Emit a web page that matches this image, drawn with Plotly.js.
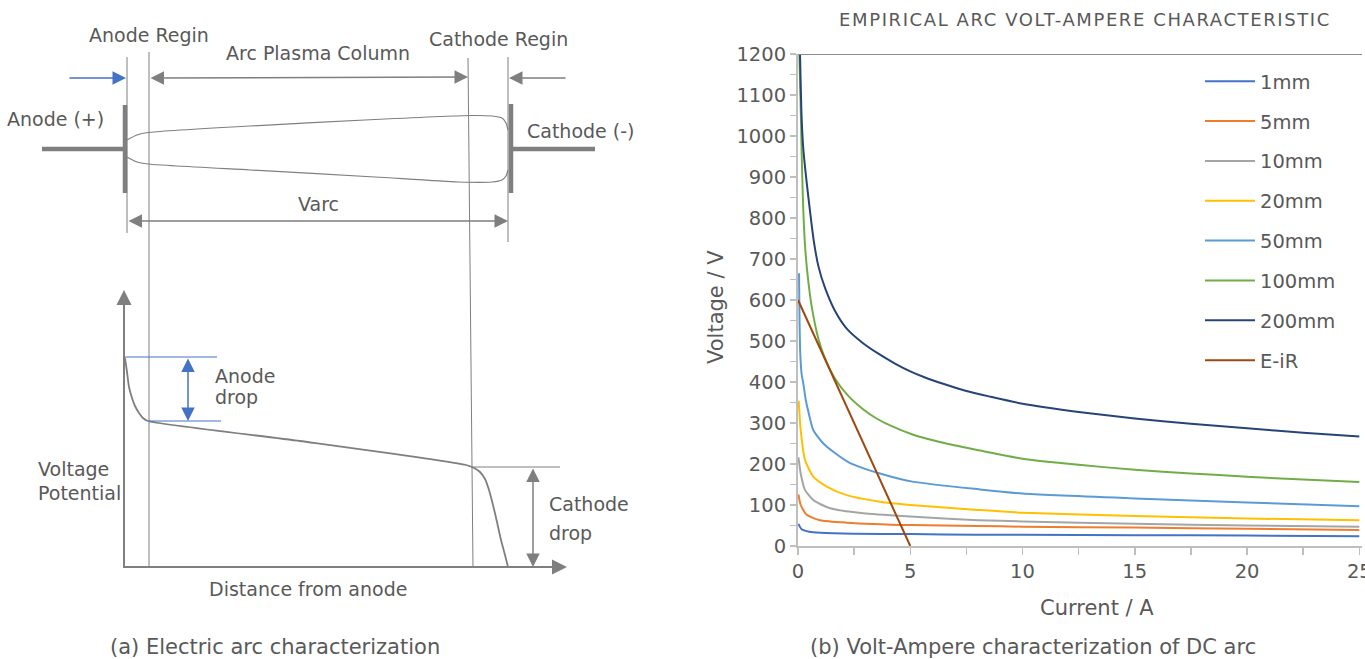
<!DOCTYPE html>
<html><head><meta charset="utf-8">
<script src="https://cdn.plot.ly/plotly-3.0.1.min.js"></script>
<style>html,body{margin:0;padding:0;background:#fff;} #chart{width:1365px;height:659px;} .gtitle{letter-spacing:1.6px;}</style>
</head><body><div id="chart"></div>
<script>
// ================= Right panel: chart data =================
const seriesNames = ['1mm', '5mm', '10mm', '20mm', '50mm', '100mm', '200mm', 'E-iR'];
const seriesColors = ['#4472C4', '#ED7D31', '#A5A5A5', '#FFC000', '#5B9BD5', '#70AD47', '#264478', '#9E480E'];

const current_1mm = [0.02, 0.16, 0.5, 1, 2.5, 5, 8, 10, 15, 20, 25];
const voltage_1mm = [54, 41, 35, 32.5, 30, 29, 27.5, 27.5, 26.5, 25.5, 24];

const current_5mm = [0.02, 0.12, 0.39, 0.98, 2.17, 5, 8, 10, 15, 20, 25];
const voltage_5mm = [126, 100, 76, 63, 57, 51, 49, 47, 45, 42, 39];

const current_10mm = [0.02, 0.12, 0.31, 0.68, 1.43, 2.9, 5, 8, 10, 15, 20, 25];
const voltage_10mm = [216, 177, 137, 112, 92, 80, 72, 63, 60, 54, 50, 47];

const current_20mm = [0.03, 0.12, 0.31, 0.68, 1.28, 2.17, 3.65, 5, 8, 10, 15, 20, 25];
const voltage_20mm = [354, 283, 210, 169, 145, 124, 108, 100, 88, 81, 73, 67, 63];

const current_50mm = [0.045, 0.07, 0.1, 0.16, 0.24, 0.35, 0.46, 0.68, 1.13, 1.57, 2.3, 3.65, 5.1, 8.1, 10, 15, 20, 25];
const voltage_50mm = [665, 545, 470, 420, 395, 355, 328, 283, 250, 230, 203, 177, 157, 138, 128, 116, 106, 97];

const current_100mm = [0.06, 0.13, 0.16, 0.22, 0.31, 0.43, 0.61, 0.91, 1.2, 1.65, 2.24, 2.91, 3.5, 4.1, 5.1, 6.6, 8.1, 10, 12.5, 15, 17.5, 20, 22.5, 25];
const voltage_100mm = [1200, 1047, 966, 844, 735, 660, 584, 505, 458, 408, 366, 333, 311, 294, 272, 250, 233, 213, 198, 186, 177, 169, 162, 156];

const current_200mm = [0.09, 0.16, 0.24, 0.39, 0.53, 0.7, 0.91, 1.2, 1.65, 2.17, 2.84, 3.58, 4.32, 5, 5.66, 6.5, 7.5, 8.5, 10, 12.5, 15, 17.5, 20, 22.5, 25];
const voltage_200mm = [1200, 1047, 966, 885, 819, 745, 682, 630, 573, 530, 497, 469, 445, 426, 411, 395, 378, 365, 347, 327, 311, 298, 287, 276, 267];

const current_EiR = [0, 5];
const voltage_EiR = [600, 0];

const seriesCurrents = [current_1mm, current_5mm, current_10mm, current_20mm, current_50mm, current_100mm, current_200mm, current_EiR];
const seriesVoltages = [voltage_1mm, voltage_5mm, voltage_10mm, voltage_20mm, voltage_50mm, voltage_100mm, voltage_200mm, voltage_EiR];

const chartTitle = 'EMPIRICAL ARC VOLT-AMPERE CHARACTERISTIC';
const xTitle = 'Current / A';
const yTitle = 'Voltage / V';
const captionA = '(a) Electric arc characterization';
const captionB = '(b) Volt-Ampere characterization of DC arc';

// ================= Left panel: schematic geometry (pixel space) =================
const plasmaTopX = [127, 137, 148, 250, 375, 471, 492, 502, 506, 508];
const plasmaTopY = [140, 135, 132.5, 126, 119.5, 115.5, 116, 118, 123, 130];
const plasmaBotX = [127, 137, 148, 250, 375, 458, 492, 502, 506, 508];
const plasmaBotY = [157, 162, 164, 170, 177, 182, 182, 180, 176, 170];
const potentialX = [125, 127, 129, 132, 135, 139, 143, 148, 300, 466, 474, 480, 485, 489, 493, 497, 501, 505, 508];
const potentialY = [358, 372, 387, 398, 406, 413, 418, 421, 441, 465, 468, 472, 479, 490, 505, 522, 540, 555, 567];

const TXT = '#595959';
const GRAY = '#7F7F7F';
const BLUE = '#4472C4';
const FONT = 'DejaVu Sans, sans-serif';

const traces = [];
for (let i = 0; i < seriesNames.length; i++) {
  traces.push({
    type: 'scatter', mode: 'lines', name: seriesNames[i],
    x: seriesCurrents[i], y: seriesVoltages[i],
    xaxis: 'x', yaxis: 'y',
    line: {color: seriesColors[i], width: 2, shape: 'spline', smoothing: 0.6},
    legendgroup: 'g' + i, hoverinfo: 'x+y+name'
  });
}
function schem(x, y, color, w) {
  return {type: 'scatter', mode: 'lines', x: x, y: y, xaxis: 'x2', yaxis: 'y2',
    line: {color: color, width: w, shape: 'spline', smoothing: 0.6}, showlegend: false, hoverinfo: 'skip'};
}
traces.push(schem(plasmaTopX, plasmaTopY, GRAY, 1.2));
traces.push(schem(plasmaBotX, plasmaBotY, GRAY, 1.2));
traces.push(schem(potentialX, potentialY, GRAY, 1.8));

const shapes = [];
function seg(x0, y0, x1, y1, color, w) {
  shapes.push({type: 'line', xref: 'x2', yref: 'y2', x0: x0, y0: y0, x1: x1, y1: y1, line: {color: color, width: w}, layer: 'above'});
}
seg(125, 105, 125, 193, GRAY, 4.5);
seg(42, 149, 125, 149, GRAY, 4.5);
seg(511, 104, 511, 193, GRAY, 4.5);
seg(511, 149, 595, 149, GRAY, 4.5);
seg(127, 57, 127, 233, GRAY, 1);
seg(149, 52, 149, 568, GRAY, 1);
seg(468, 58, 473, 568, GRAY, 1);
seg(508, 57, 508, 242, GRAY, 1);
seg(124, 568, 124, 300, GRAY, 2);
seg(123, 567, 555, 567, GRAY, 2);
seg(125, 357, 217, 357, BLUE, 1);
seg(149, 421, 221, 421, BLUE, 1);
seg(472, 467, 560, 467, GRAY, 1);
shapes.push({type: 'line', xref: 'x domain', yref: 'y', x0: 0, x1: 1, y0: 1200, y1: 1200, line: {color: '#8C8C8C', width: 2}});

const annotations = [];
function arrow(x, y, ax, ay, color, both, w, size) {
  annotations.push({xref: 'x2', yref: 'y2', axref: 'x2', ayref: 'y2', x: x, y: y, ax: ax, ay: ay,
    text: '', showarrow: true, arrowhead: 2, startarrowhead: 2, arrowsize: size || 1.8, startarrowsize: size || 1.8,
    arrowwidth: w || 1.5, arrowcolor: color, arrowside: both ? 'end+start' : 'end', standoff: 0, startstandoff: 0});
}
arrow(126, 78, 68, 78, BLUE, false, 1.5);
arrow(468, 77, 149, 78, GRAY, true, 1.5);
arrow(509, 78, 567, 78, GRAY, false, 1.5);
arrow(508, 221, 127, 221, GRAY, true, 1.5);
arrow(124, 290, 124, 320, GRAY, false, 2, 1.5);
arrow(567, 567, 540, 567, GRAY, false, 2, 1.5);
arrow(188, 421, 188, 357, BLUE, true, 1.5);
arrow(533, 567, 533, 467, GRAY, true, 1.5);

function label(txt, x, y, anchor, size, angle) {
  annotations.push({xref: 'x2', yref: 'y2', x: x, y: y, text: txt, showarrow: false, textangle: angle || 0,
    xanchor: anchor || 'center', yanchor: 'middle', font: {family: FONT, size: size || 19, color: TXT}});
}
label('Anode Regin', 149, 35);
label('Arc Plasma Column', 318, 53);
label('Cathode Regin', 498, 39);
label('Anode (+)', 55, 119);
label('Cathode (-)', 581, 131);
label('Varc', 318, 204);
label('Anode', 213, 376, 'left');
label('drop', 213, 397, 'left');
label('Voltage', 36, 469, 'left');
label('Potential', 36, 493, 'left');
label('Cathode', 547, 504, 'left');
label('drop', 547, 533, 'left');
label('Distance from anode', 308, 589);
label(captionA, 275, 647, 'center', 21);
label(captionB, 1033, 647, 'center', 21);
label(xTitle, 1097, 608, 'center', 21);
label(yTitle, 716, 307, 'center', 21, -90);

const layout = {
  width: 1365, height: 659,
  margin: {l: 0, r: 0, t: 0, b: 0, pad: 0},
  paper_bgcolor: '#ffffff', plot_bgcolor: 'rgba(0,0,0,0)',
  font: {family: FONT, color: TXT},
  title: {text: chartTitle, x: 1085 / 1365, xanchor: 'center', y: 1 - 20 / 659, yanchor: 'middle',
    font: {family: FONT, size: 18, color: TXT}},
  xaxis: {
    domain: [798 / 1365, 1362 / 1365], range: [0, 25.12], anchor: 'y',
    showgrid: false, zeroline: false, showline: true, linecolor: '#BFBFBF', linewidth: 2,
    ticks: 'outside', ticklen: 7, tickcolor: '#BFBFBF', tickwidth: 1.5, dtick: 5, tick0: 0,
    minor: {dtick: 2.5, ticks: 'outside', ticklen: 7, tickcolor: '#BFBFBF', tickwidth: 1.5},
    tickfont: {family: FONT, size: 19.5, color: TXT}, ticklabeloverflow: 'allow'
  },
  yaxis: {
    domain: [1 - 546 / 659, 1 - 54 / 659], range: [0, 1200], anchor: 'x',
    showgrid: false, zeroline: false, showline: true, linecolor: '#BFBFBF', linewidth: 2,
    ticks: 'outside', ticklen: 6, tickcolor: '#BFBFBF', tickwidth: 1.5, dtick: 100, tick0: 0,
    minor: {dtick: 50, ticks: 'outside', ticklen: 6, tickcolor: '#BFBFBF', tickwidth: 1.5},
    tickfont: {family: FONT, size: 19.5, color: TXT}
  },
  xaxis2: {domain: [0, 1], range: [0, 1365], anchor: 'y2', visible: false, fixedrange: true},
  yaxis2: {domain: [0, 1], range: [659, 0], anchor: 'x2', visible: false, fixedrange: true},
  showlegend: true,
  legend: {x: 1200 / 1365, y: 1 - 62 / 659, xanchor: 'left', yanchor: 'top', bgcolor: 'rgba(0,0,0,0)',
    font: {family: FONT, size: 19.5, color: TXT}, tracegroupgap: 11.5, itemwidth: 50, traceorder: 'grouped'},
  shapes: shapes,
  annotations: annotations
};

Plotly.newPlot('chart', traces, layout, {staticPlot: true, displayModeBar: false});
</script>
</body></html>
